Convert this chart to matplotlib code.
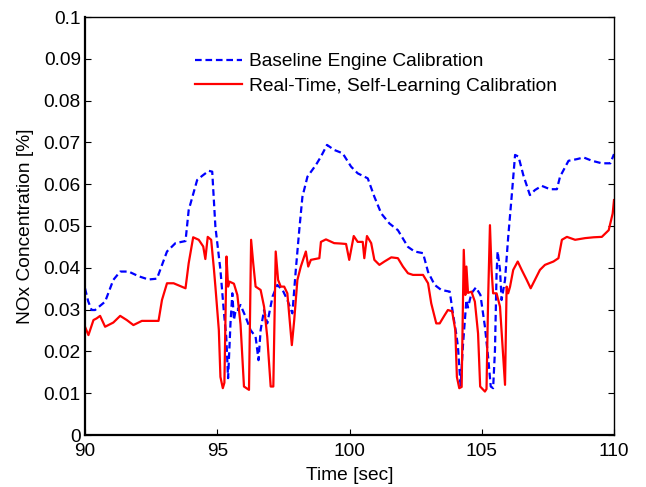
import matplotlib
matplotlib.use("Agg")
import matplotlib.pyplot as plt

baseline_t = [90.00, 90.12, 90.25, 90.38, 90.55, 90.76, 91.07, 91.33, 91.65, 92.02, 92.40, 92.72,
              93.10, 93.42, 93.80, 93.92, 94.24, 94.43, 94.68, 94.81, 94.93, 95.12, 95.25, 95.34,
              95.41, 95.50, 95.57, 95.63, 95.70, 95.76, 95.88, 96.07, 96.26, 96.45, 96.56, 96.64,
              96.77, 96.89, 97.09, 97.27, 97.47, 97.65, 97.84, 97.97, 98.10, 98.22, 98.41, 98.73,
              98.92, 99.15, 99.42, 99.74, 100.06, 100.31, 100.69, 100.94, 101.20, 101.51, 101.83,
              102.21, 102.46, 102.78, 102.97, 103.22, 103.47, 103.79, 103.91, 104.04, 104.10,
              104.20, 104.29, 104.42, 104.48, 104.61, 104.78, 104.95, 105.12, 105.24, 105.34,
              105.43, 105.50, 105.56, 105.60, 105.69, 105.75, 105.88, 106.00, 106.13, 106.26,
              106.39, 106.57, 106.82, 107.01, 107.27, 107.58, 107.84, 107.96, 108.28, 108.60,
              108.85, 109.17, 109.54, 109.86, 110.00]
baseline_nox = [0.0351, 0.0320, 0.0299, 0.0299, 0.0308, 0.0319, 0.0371, 0.0391, 0.0391, 0.0380,
                0.0372, 0.0374, 0.0439, 0.0459, 0.0464, 0.0538, 0.0610, 0.0620, 0.0632, 0.0630,
                0.0498, 0.0395, 0.0295, 0.0235, 0.0136, 0.0267, 0.0339, 0.0275, 0.0300, 0.0299,
                0.0311, 0.0283, 0.0251, 0.0235, 0.0179, 0.0251, 0.0299, 0.0267, 0.0331, 0.0359,
                0.0347, 0.0323, 0.0291, 0.0395, 0.0490, 0.0570, 0.0618, 0.0646, 0.0666, 0.0694,
                0.0682, 0.0674, 0.0642, 0.0626, 0.0614, 0.0570, 0.0530, 0.0506, 0.0490, 0.0450,
                0.0439, 0.0435, 0.0390, 0.0359, 0.0347, 0.0343, 0.0291, 0.0240, 0.0211, 0.0118,
                0.0215, 0.0323, 0.0305, 0.0339, 0.0353, 0.0335, 0.0259, 0.0187, 0.0116, 0.0112,
                0.0203, 0.0387, 0.0439, 0.0395, 0.0323, 0.0371, 0.0474, 0.0570, 0.0670, 0.0666,
                0.0622, 0.0574, 0.0586, 0.0596, 0.0588, 0.0588, 0.0618, 0.0656, 0.0660, 0.0664,
                0.0656, 0.0650, 0.0650, 0.0672]

selflearn_t = [90.00, 90.13, 90.32, 90.44, 90.57, 90.76, 91.07, 91.33, 91.58, 91.83, 92.15, 92.47,
               92.78, 92.91, 93.10, 93.35, 93.61, 93.80, 93.92, 94.09, 94.30, 94.47, 94.55, 94.64,
               94.77, 94.87, 94.93, 95.06, 95.12, 95.21, 95.27, 95.35, 95.41, 95.46, 95.63, 95.76,
               95.88, 96.01, 96.20, 96.28, 96.36, 96.45, 96.64, 96.77, 96.89, 97.02, 97.12, 97.21,
               97.30, 97.40, 97.53, 97.65, 97.75, 97.82, 97.91, 98.03, 98.16, 98.35, 98.44, 98.54,
               98.86, 98.92, 99.11, 99.42, 99.68, 99.87, 99.99, 100.16, 100.31, 100.50, 100.56,
               100.66, 100.82, 100.94, 101.13, 101.32, 101.58, 101.83, 102.02, 102.21, 102.40,
               102.78, 102.97, 103.09, 103.28, 103.41, 103.60, 103.72, 103.88, 104.00, 104.06,
               104.15, 104.24, 104.32, 104.38, 104.42, 104.48, 104.61, 104.74, 104.86, 104.94,
               105.12, 105.18, 105.24, 105.31, 105.37, 105.43, 105.56, 105.69, 105.81, 105.88,
               105.94, 106.00, 106.07, 106.19, 106.36, 106.51, 106.70, 106.85, 107.01, 107.20,
               107.39, 107.71, 107.90, 108.03, 108.22, 108.53, 108.91, 109.23, 109.54, 109.80,
               109.95, 110.00]
selflearn_nox = [0.0259, 0.0239, 0.0275, 0.0279, 0.0285, 0.0259, 0.0269, 0.0285, 0.0275, 0.0263,
                 0.0273, 0.0273, 0.0273, 0.0323, 0.0363, 0.0363, 0.0356, 0.0351, 0.0411, 0.0473,
                 0.0467, 0.0451, 0.0421, 0.0474, 0.0467, 0.0400, 0.0355, 0.0251, 0.0139, 0.0112,
                 0.0125, 0.0427, 0.0355, 0.0367, 0.0362, 0.0335, 0.0265, 0.0116, 0.0108, 0.0467,
                 0.0411, 0.0355, 0.0347, 0.0307, 0.0235, 0.0116, 0.0116, 0.0439, 0.0371, 0.0355,
                 0.0355, 0.0339, 0.0267, 0.0215, 0.0275, 0.0371, 0.0403, 0.0439, 0.0403, 0.0419,
                 0.0423, 0.0462, 0.0468, 0.0459, 0.0458, 0.0457, 0.0419, 0.0476, 0.0462, 0.0462,
                 0.0423, 0.0476, 0.0459, 0.0419, 0.0407, 0.0415, 0.0425, 0.0423, 0.0403, 0.0387,
                 0.0383, 0.0383, 0.0363, 0.0315, 0.0267, 0.0267, 0.0287, 0.0299, 0.0296, 0.0251,
                 0.0139, 0.0112, 0.0115, 0.0443, 0.0335, 0.0403, 0.0340, 0.0343, 0.0319, 0.0243,
                 0.0116, 0.0104, 0.0110, 0.0323, 0.0502, 0.0395, 0.0339, 0.0339, 0.0307, 0.0187,
                 0.0120, 0.0355, 0.0339, 0.0355, 0.0395, 0.0415, 0.0395, 0.0371, 0.0351, 0.0371,
                 0.0395, 0.0407, 0.0415, 0.0423, 0.0467, 0.0474, 0.0467, 0.0471, 0.0473, 0.0474,
                 0.0490, 0.0530, 0.0562]

x_ticks = [90, 95, 100, 105, 110]
y_ticks = [0, 0.01, 0.02, 0.03, 0.04, 0.05, 0.06, 0.07, 0.08, 0.09, 0.1]
y_ticklabels = ["0", "0.01", "0.02", "0.03", "0.04", "0.05", "0.06", "0.07", "0.08", "0.09", "0.1"]
labels = ["Baseline Engine Calibration", "Real-Time, Self-Learning Calibration"]

plt.rcParams['font.family'] = ['Liberation Sans', 'DejaVu Sans']
FS = 13.8

fig = plt.figure(figsize=(6.46, 4.87), dpi=100)
ax = fig.add_axes([85/646, 1 - 435/487, (614 - 85)/646, (435 - 17)/487])

ax.plot(baseline_t, baseline_nox, color=(0, 0, 1), lw=1.6, linestyle=(0, (3, 1.7)), label=labels[0])
ax.plot(selflearn_t, selflearn_nox, color=(1, 0, 0), lw=1.6, label=labels[1])

ax.set_xlim(90, 110)
ax.set_ylim(0, 0.1)
ax.set_xticks(x_ticks)
ax.set_yticks(y_ticks)
ax.set_yticklabels(y_ticklabels)
ax.tick_params(direction='in', length=4, width=0.8, labelsize=FS, top=False, right=True)
ax.tick_params(axis='x', pad=5.5)
ax.tick_params(axis='y', pad=3)
for s in ['left', 'bottom']:
    ax.spines[s].set_linewidth(1.6)
for s in ['top', 'right']:
    ax.spines[s].set_linewidth(1.0)

ax.set_xlabel("Time [sec]", fontsize=FS, labelpad=5)
ax.set_ylabel("NOx Concentration [%]", fontsize=FS, labelpad=7)

leg = ax.legend(loc='upper left', bbox_to_anchor=((195 - 85)/529, 1 - (53 - 17)/418),
                frameon=False, fontsize=FS, handlelength=2.45, handletextpad=0.36,
                labelspacing=0.36, borderaxespad=0, borderpad=0)

fig.savefig("out.png", dpi=100)
